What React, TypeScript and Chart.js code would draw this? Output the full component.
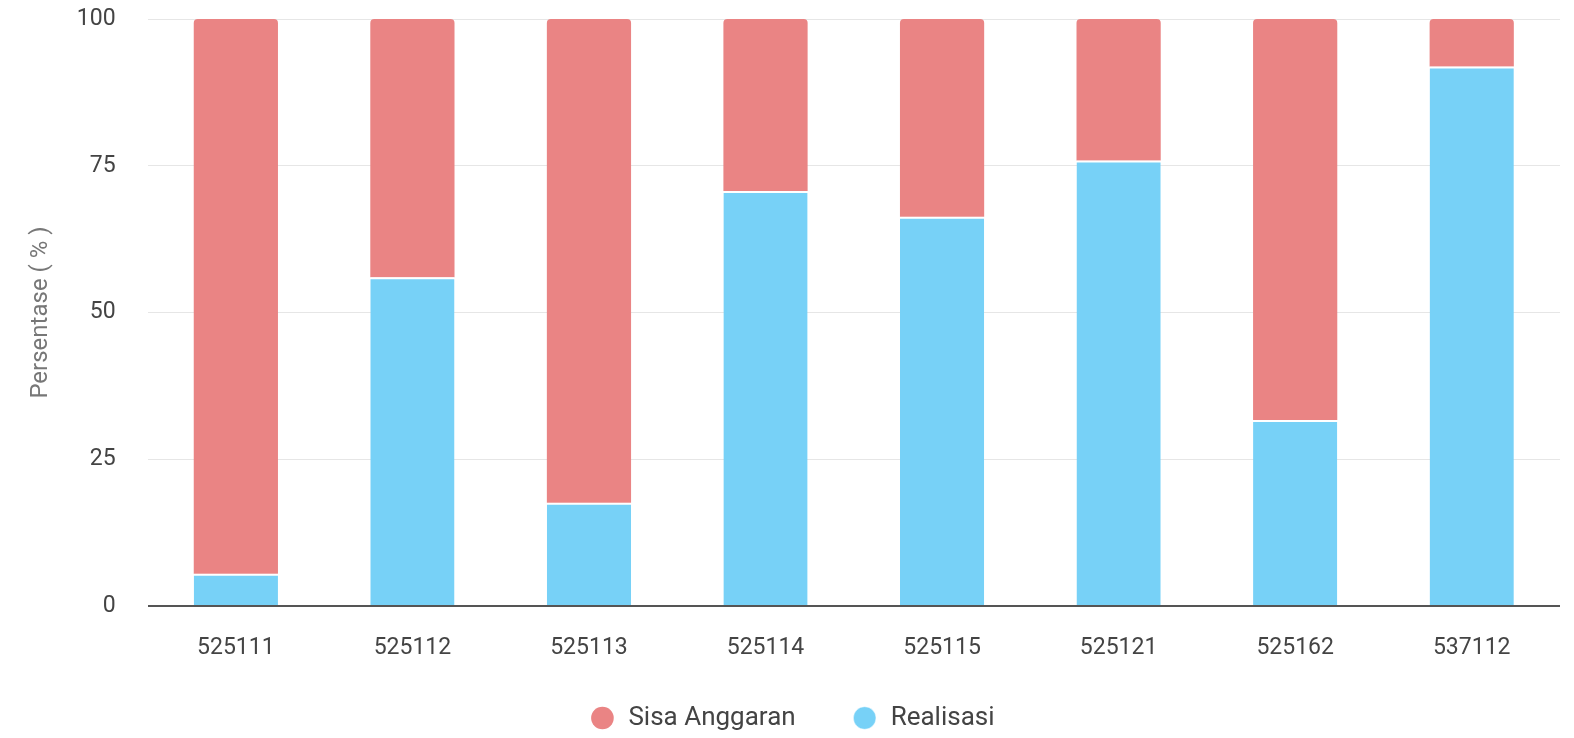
import React, { useEffect, useRef } from "react";
import { Chart, registerables } from "chart.js";

Chart.register(...registerables);

const categories = ["525111", "525112", "525113", "525114", "525115", "525121", "525162", "537112"];
const realisasi = [5.5, 56.0, 17.6, 70.7, 66.3, 75.9, 31.7, 91.9];
const sisaAnggaran = [94.5, 44.0, 82.4, 29.3, 33.7, 24.1, 68.3, 8.1];
const yTicks = [0, 25, 50, 75, 100];

const legendShift = {
  id: "legendShift",
  afterLayout(chart: any) {
    const lg = chart.legend;
    if (lg) {
      lg.top -= 14;
      lg.bottom -= 14;
      lg.left += 12;
      lg.right += 12;
    }
  },
};

export default function App() {
  const ref = useRef<HTMLCanvasElement | null>(null);

  useEffect(() => {
    document.body.style.margin = "0";
    const canvas = ref.current;
    if (!canvas) return;
    const chart = new Chart(canvas, {
      type: "bar",
      data: {
        labels: categories,
        datasets: [
          {
            label: "Realisasi",
            data: realisasi,
            backgroundColor: "#77D1F7",
            borderColor: "#ffffff",
            borderWidth: { top: 2, left: 0, right: 0, bottom: 0 },
            borderSkipped: false,
            barPercentage: 0.477,
            categoryPercentage: 1,
          },
          {
            label: "Sisa Anggaran",
            data: sisaAnggaran,
            backgroundColor: "#EA8484",
            borderWidth: 0,
            borderRadius: { topLeft: 4, topRight: 4, bottomLeft: 0, bottomRight: 0 },
            borderSkipped: false,
            barPercentage: 0.477,
            categoryPercentage: 1,
          },
        ],
      },
      plugins: [legendShift],
      options: {
        animation: false,
        responsive: false,
        maintainAspectRatio: false,
        layout: { padding: { top: 19, left: 0, right: 14, bottom: -17 } },
        plugins: {
          legend: {
            position: "bottom",
            reverse: true,
            labels: {
              usePointStyle: true,
              pointStyle: "circle",
              boxWidth: 28,
              boxHeight: 16,
              padding: 56,
              color: "#444",
              font: { family: "Roboto", size: 26 },
            },
          },
          tooltip: { enabled: false },
        },
        scales: {
          x: {
            stacked: true,
            grid: { display: false, drawTicks: false },
            border: { display: false },
            ticks: { color: "#444", padding: 28, font: { family: "Roboto", size: 23 } },
            afterFit: (scale: any) => {
              scale.height = 57;
            },
          },
          y: {
            stacked: true,
            min: 0,
            max: 100,
            afterBuildTicks: (axis: any) => {
              axis.ticks = yTicks.map((v) => ({ value: v }));
            },
            afterFit: (scale: any) => {
              scale.paddingTop = 0;
              scale.paddingBottom = 0;
            },
            grid: {
              drawTicks: false,
              color: (ctx: any) => (ctx.tick && ctx.tick.value === 0 ? "#555" : "#e6e6e6"),
              lineWidth: (ctx: any) => (ctx.tick && ctx.tick.value === 0 ? 2 : 1),
            },
            border: { display: false },
            ticks: { color: "#444", padding: 32, font: { family: "Roboto", size: 23 } },
            title: {
              display: true,
              text: "Persentase ( % )",
              color: "#777",
              padding: { top: 27, bottom: -11 },
              font: { family: "Roboto", size: 24 },
            },
          },
        },
      },
    });
    return () => chart.destroy();
  }, []);

  return (
    <div style={{ position: "absolute", left: 0, top: 0, width: 1574, height: 738 }}>
      <canvas ref={ref} width={1574} height={738} style={{ width: 1574, height: 738 }} />
    </div>
  );
}
